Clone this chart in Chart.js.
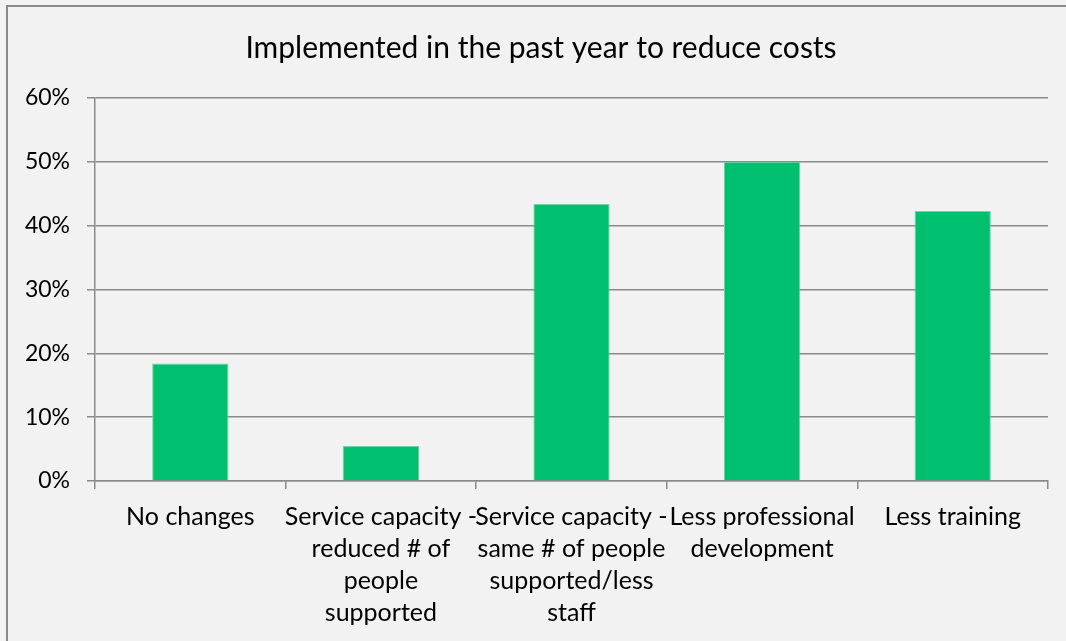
<!DOCTYPE html>
<html>
<head>
<meta charset="utf-8">
<script src="https://cdn.jsdelivr.net/npm/chart.js@4/dist/chart.umd.min.js"></script>
<style>
  html, body { margin: 0; padding: 0; background: #f2f2f2; overflow: hidden; }
  #wrap { position: relative; width: 1066px; height: 641px; }
</style>
</head>
<body>
<div id="wrap"><canvas id="c" width="1066" height="641"></canvas></div>
<script>
// Cost-reduction measures and share of respondents (percent)
const categories = [
  ['No changes'],
  ['Service capacity -', 'reduced # of', 'people', 'supported'],
  ['Service capacity -', 'same # of people', 'supported/less', 'staff'],
  ['Less professional', 'development'],
  ['Less training']
];
const shares = [18.4, 5.5, 43.4, 50.0, 42.3];
const yTicks = { min: 0, max: 60, step: 10 };
const chartTitle = 'Implemented in the past year to reduce costs';

const GRID = '#8a8a8a';
const FONT = 'Lato, "Noto Sans", sans-serif';

// Panel background plus the frame along the top and left edges
const framePlugin = {
  id: 'frame',
  beforeDraw(chart) {
    const ctx = chart.ctx;
    ctx.save();
    ctx.fillStyle = '#f2f2f2';
    ctx.fillRect(0, 0, chart.width, chart.height);
    ctx.strokeStyle = GRID;
    ctx.lineWidth = 2;
    ctx.beginPath();
    ctx.moveTo(7, chart.height);
    ctx.lineTo(7, 6);
    ctx.lineTo(chart.width, 6);
    ctx.stroke();
    ctx.restore();
  }
};

// Center the title over the framed panel rather than the plot column
const titleShift = {
  id: 'titleShift',
  afterLayout(chart) {
    const tb = chart.titleBlock;
    if (tb) { tb.left += 17; tb.right += 17; }
  }
};

new Chart(document.getElementById('c'), {
  type: 'bar',
  data: {
    labels: categories,
    datasets: [{
      data: shares,
      backgroundColor: '#00bf6f',
      borderColor: '#6ad6a4',
      borderWidth: 1,
      borderSkipped: 'bottom',
      barPercentage: 0.4,
      categoryPercentage: 1.0
    }]
  },
  options: {
    responsive: false,
    animation: false,
    layout: { padding: { left: 0, right: 18, top: 0, bottom: 0 } },
    plugins: {
      legend: { display: false },
      tooltip: { enabled: false },
      title: {
        display: true,
        text: chartTitle,
        color: '#000',
        font: { family: FONT, size: 30, weight: 'normal', lineHeight: 1.2 },
        padding: { top: 30, bottom: 32 }
      }
    },
    scales: {
      x: {
        offset: true,
        grid: {
          offset: true,
          drawOnChartArea: false,
          drawTicks: true,
          tickLength: 8,
          color: GRID,
          lineWidth: 1.5
        },
        border: { display: true, color: GRID, width: 1.5 },
        ticks: {
          color: '#000',
          maxRotation: 0,
          minRotation: 0,
          autoSkip: false,
          padding: 12,
          font: { family: FONT, size: 25, lineHeight: 1.28 }
        },
        afterFit(scale) { scale.height = 160; }
      },
      y: {
        min: yTicks.min,
        max: yTicks.max,
        grid: {
          color: GRID,
          lineWidth: 1.5,
          tickLength: 8
        },
        border: { display: true, color: GRID, width: 1.5 },
        ticks: {
          stepSize: yTicks.step,
          color: '#000',
          padding: 17,
          font: { family: FONT, size: 23 },
          callback: v => v + '%'
        },
        afterFit(scale) { scale.width = 95; }
      }
    }
  },
  plugins: [framePlugin, titleShift]
});
</script>
</body>
</html>
